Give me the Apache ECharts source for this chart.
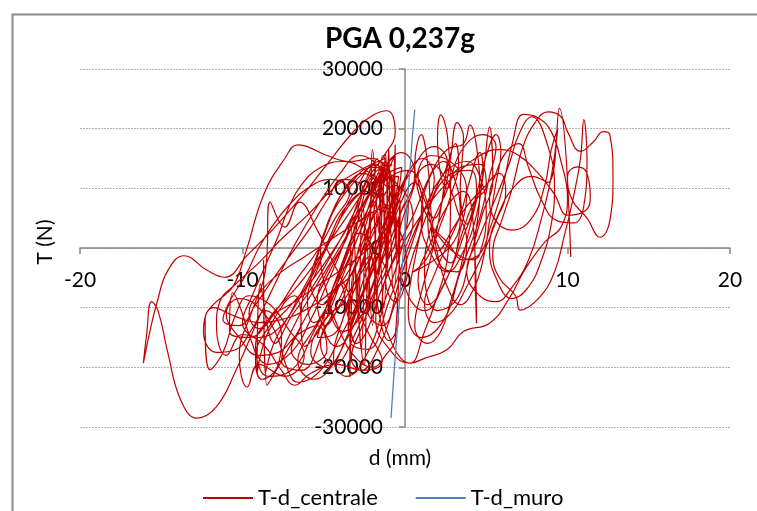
<!DOCTYPE html>
<html lang="it">
<head>
<meta charset="UTF-8">
<title>PGA 0,237g</title>
<script src="https://cdn.jsdelivr.net/npm/echarts@6/dist/echarts.min.js"></script>
<style>
  html, body { margin: 0; padding: 0; background: #fff; }
  #chart { width: 757px; height: 511px; }
</style>
</head>
<body>
<div id="chart"></div>
<script>
// axis ticks
const xTicks = [-20, -10, 0, 10, 20];
const yTicks = [-30000, -20000, -10000, 0, 10000, 20000, 30000];

// T-d_centrale in time order: d (mm), T (N)
const centraleInit = [
  [0,0],[0.5,4500],[0.2,8000],[-0.7,1500],[-1.2,-5500],[-0.6,-9000],[0.4,-2000],[1.1,6500],[0.6,11000],
  [-0.5,6000],[-1.5,-2500],[-2.3,-10500],[-1.4,-13000],[-0.3,-5000],[0.9,4500],[1.8,11500],[1.1,15000],
  [-0.4,9500],[-1.8,500],[-2.9,-8500],[-3.4,-15500],[-2.3,-17000],[-1.0,-9000],[0.4,1500],[1.7,9500],
  [2.6,14500],[1.8,17000],[0.3,12500],[-1.3,3500],[-1.6,-2000],[-1.4,14000],[-1.2,-1000],[-1.0,16800],
  [-0.9,3000],[-0.6,17300],[-0.7,6000],[-2.0,-1000]
];
const centraleCore = [
  [-3.8,-9000],[-5.2,-16000],[-4.4,-19500],[-3.0,-14000],[-1.8,-5000],[-0.4,5000],[0.6,12500],[-0.2,16000],
  [-1.8,11000],[-3.6,2000],[-5.6,-7000],[-7.0,-14000],[-7.6,-19000],[-6.4,-20500],[-5.0,-14000],[-3.6,-6000],
  [-2.0,3000],[-0.8,11000],[-1.6,14500],[-3.2,9000],[-5.0,-1000],[-6.6,-9000],[-8.0,-15500],[-8.6,-21000],
  [-8.7,-2000],[-8.5,-23000],[-7.4,-18000],[-5.6,-9000],[-4.0,-500],[-2.6,7000],[-1.4,13000],[-0.6,15500],
  [-1.8,9000],[-3.0,2500],[-4.2,-6000],[-5.0,-12500],[-4.2,-16500],[-2.8,-11000],[-1.6,-3000],[-0.6,6500],
  [-0.2,13500],[-1.2,12000],[-2.4,4000],[-3.2,-6000],[-3.4,-21600],[-3.3,-9000],[-4.6,-11000],[-5.8,-17500],
  [-4.8,-20000],[-3.6,-15000],[-2.6,-7500],[-1.6,1000],[-0.8,9000],[-1.4,15500],[-1.6,2500],[-2.0,16500],
  [-2.2,4000],[-2.8,-4500],[-3.9,-12500],[-4.4,-18500],[-3.6,-21500],[-2.2,-17000],[-1.2,-8500],[-0.2,0],
  [0.2,7500],[-0.6,10500],[-1.8,6000],[-3.0,-1500],[-4.4,-8000],[-5.6,-13500],[-6.6,-19000],[-5.6,-22000],
  [-4.2,-18500],[-3.0,-10500],[-1.8,-2500],[-0.8,5500],[-0.4,12000],[-1.6,11000],[-2.8,5000],[-3.8,-2000],
  [-4.8,-9500],[-5.4,-15000],[-4.4,-14500],[-3.4,-8000],[-2.4,-500],[-1.4,8000],[-2.6,12500],[-3.8,9500],
  [-4.8,3500],[-5.6,-3500],[-6.4,-11000],[-6.2,-16500],[-5.0,-12500],[-3.8,-4500],[-2.6,4000],[-1.6,11500]
];
const centraleCore2 = [
  [-0.8,14000],[-1.9,12500],[-2.6,8000],[-3.1,1500],[-3.5,-5500],[-4.1,-10000],[-4.9,-13000],[-5.4,-9000],
  [-4.8,-4000],[-3.7,1000],[-2.9,6500],[-2.4,11500],[-1.7,15000],[-1.5,4000],[-1.2,16000],[-1.1,-2000],
  [-1.9,-8000],[-2.7,-13500],[-3.3,-18500],[-2.7,-20500],[-1.6,-16500],[-0.7,-10000],[0.1,-3000],[-0.4,3500],
  [-1.3,7500],[-2.3,9500],[-3.6,7000],[-4.6,2000],[-5.3,-3000],[-6.0,-8500],[-5.6,-12500],[-4.8,-10500],
  [-4.0,-6000],[-3.5,-11500],[-3.0,-16000],[-2.2,-13000],[-1.7,-6500],[-2.2,-1500],[-2.9,-7000],[-2.5,-19500],
  [-2.3,-6000],[-1.4,500],[-0.6,7000],[-0.9,12500],[-2.0,13500],[-3.3,11000],[-4.4,6500],[-5.2,500],
  [-5.8,-6000],[-5.1,-9500],[-4.2,-5000],[-3.5,0],[-2.8,4500],[-2.0,-2000],[-1.6,-11000],[-1.0,-15500],
  [-0.4,-12000],[-0.9,-5500],[-1.8,-500],[-2.8,2500],[-3.9,-3500],[-4.6,-9500],[-3.8,-14000],[-2.6,-11000],
  [-1.4,-4000],[-0.5,3000],[-0.9,9000],[-1.6,-4500],[-1.3,13000],[-2.2,9000],[-1.2,14500]
];
const centraleCore3 = [
  [-0.5,-2000],[-0.9,9000],[-1.1,-4000],[-1.4,12000],[-1.7,-6000],[-2.0,10500],[-2.3,-9000],[-2.6,8000],
  [-2.9,-12000],[-3.2,5000],[-3.5,-14000],[-3.1,-3000],[-2.7,-17000],[-2.4,2000],[-2.0,-13000],[-1.7,6500],
  [-1.3,-10000],[-1.0,11000],[-0.7,-7000],[-0.3,8000],[-0.6,-15000],[-1.2,-18000],[-2.0,-20000],[-3.0,-18500],
  [-4.0,-14000],[-4.8,-7500],[-5.2,-1000],[-4.6,5000],[-3.6,9500],[-2.6,12500],[-1.8,14000],
  [-1.0,10000],[-2.4,13000],[-3.8,14500],[-5.2,13500],[-6.4,10500],[-7.2,6500],[-7.8,2000],[-8.6,-3000],
  [-9.4,-8000],[-10.0,-12500],[-9.0,-15000],[-7.6,-13000],[-6.6,-8500],[-5.6,-3500],[-4.6,1500],[-3.6,6500],
  [-2.4,10000],[-1.2,12000],[-0.4,9500],[-1.0,4000],[-2.2,0],[-3.6,-3000],[-5.2,-6000],[-6.8,-9000],
  [-8.4,-12000],[-9.2,-16500],[-8.4,-19500],[-7.0,-17500],[-5.8,-12000],[-4.8,-6000],[-3.8,500],[-3.0,7000],
  [-2.2,12000],[-1.4,15000],[-0.6,19500]
];
const centraleLeft = [
  [-1.1,23000],[-2.0,22200],[-3.2,19400],[-4.8,14000],[-6.4,8500],[-8.0,3500],[-9.7,-1200],[-11.1,-4900],
  [-12.2,-3700],[-13.6,-1300],[-14.6,-3800],[-15.2,-8500],[-15.7,-14000],[-16.1,-19300],[-15.9,-14500],
  [-15.6,-9000],[-15.2,-10500],[-14.6,-17500],[-13.8,-25500],[-12.8,-28500],[-11.6,-26600],[-10.4,-20500],
  [-9.2,-13000],[-8.0,-6000],[-6.8,500],[-5.4,7000],[-4.0,12500],[-2.8,15500],[-1.8,13500],
  [-2.8,8500],[-4.4,2000],[-6.2,-5000],[-8.0,-10500],[-9.6,-15000],[-10.8,-14000],[-10.6,-7500],
  [-10.2,-9500],[-9.4,-16000],[-8.4,-21500],[-7.0,-20500],[-5.6,-14000],[-4.0,-5000],[-2.4,5000],[-1.2,12500],
  [-2.0,15000],[-3.4,14500],[-4.8,15500],[-6.0,17000],[-6.6,17300],[-7.4,15000],[-8.7,8900],[-9.8,-700],
  [-10.6,-6500],[-11.8,-9500],[-12.3,-12000],[-12.0,-20400],[-11.2,-17500],[-10.4,-11000],[-9.6,-8000],
  [-8.3,-9500],[-7.2,-13500],[-6.2,-18000],[-7.4,-21500],[-9.0,-19500],[-9.7,-23300],[-10.2,-18000],
  [-9.4,-10500],[-8.6,-4000],[-8.3,7700],[-7.4,3500],[-6.5,7700],[-5.4,3000],[-4.4,-2500],[-3.2,-9000],
  [-2.2,-14500],[-1.4,-19000],[-2.6,-20500],[-4.2,-19500],[-5.8,-21000],[-6.8,-23000],[-7.6,-20500],
  [-8.8,-16000],[-10.0,-14500],[-11.0,-18000],[-11.6,-13000],[-11.4,-9000],[-10.4,-6000],[-9.0,-2500],
  [-7.6,1500],[-6.0,5500],[-4.4,10000],[-2.8,13000],[-1.2,15000]
];
const centraleLeft2 = [
  [-3.0,-3000],[-4.6,-7500],[-6.2,-10500],[-7.6,-12000],[-9.0,-12500],[-10.4,-11500],[-11.8,-10000],
  [-12.4,-14000],[-11.6,-17500],[-10.4,-17000],[-9.4,-13500],[-8.6,-10500],[-7.6,-14500],[-7.8,-19500],
  [-8.8,-22000],[-9.2,-18500],[-8.2,-12500],[-6.8,-8000],[-6.4,-12500],[-7.0,-17000],[-6.0,-19500],
  [-4.8,-17000],[-5.4,-13000],[-6.6,-14500],[-7.8,-17500],[-9.0,-18000],[-10.2,-15000],[-11.0,-11000],
  [-10.2,-8500],[-9.2,-9500],[-8.0,-14000],[-7.2,-20500],[-6.6,-22500],[-5.2,-20500],[-4.0,-15000],
  [-2.8,-8500],[-1.6,-1000],[-0.6,6000],[0.2,13000]
];
const centraleMid = [
  [-0.6,8000],[-2.0,6000],[-3.4,3500],[-4.8,1000],[-6.2,-1500],[-7.6,-4000],[-8.8,-7000],[-9.6,-11000],
  [-9.0,-13500],[-7.8,-10000],[-6.6,-5000],[-5.4,-500],[-4.4,4500],[-3.4,9500],[-4.6,11500],[-6.0,10000],
  [-7.2,7000],[-8.2,3500],[-9.0,0],[-9.8,-4500],[-10.8,-9000],[-11.2,-12000],[-10.2,-13000],[-9.2,-9500],
  [-8.2,-5500],[-7.0,-1000],[-5.8,3500],[-4.8,8000],[-3.8,11500],[-2.6,10000],[-3.4,4500],[-4.6,-1500],
  [-5.8,-7000],[-7.0,-11500],[-8.0,-16000],[-8.9,-6000],[-9.1,-21000],[-8.4,-14000],[-7.0,-9500],
  [-5.6,-5000],[-4.2,500],[-2.8,6500],[-1.6,10500],[0.2,13000]
];
const centraleRightCore = [
  [1.2,9000],[1.8,2000],[2.8,-2500],[3.4,3000],[3.8,9000],[3.2,13500],[1.6,15500],[0.4,9000],
  [-0.4,0],[0.2,-8000],[1.2,-10500],[2.4,-6000],[3.6,2000],[4.4,9500],[4.0,13000],[2.6,12000],[1.4,6000],
  [0.6,-2000],[0.2,-11000],[1.0,-15000],[2.4,-12000],[3.4,-4000],[4.6,5000],[5.2,12000],[5.6,17000],
  [4.8,19000],[3.4,16000],[2.6,10000],[2.0,18500],[2.2,22300],[2.6,19000],[2.8,8000],[2.6,-2000],
  [2.0,-8000],[1.2,-14000],[0.3,-19300],[-0.8,-16000],[-1.4,-9000],[-0.6,-1000],[0.6,6000],[1.6,12500],
  [2.6,16500],[3.6,17500],[4.0,20600],[4.4,17000],[4.6,9000],[4.3,0],[4.4,-12600],[4.2,4000],[3.6,9500],
  [2.6,7000],[1.6,1000],[0.8,-5500],[1.4,-9500],[2.6,-5000],[3.4,1500],[4.2,7500],[5.0,10500],[4.6,14000],
  [3.4,13500],[2.4,8500],[1.6,3500],[1.2,-3500],[2.0,-10500],[3.2,-8500],[4.0,-1500],[4.8,6000],[5.4,11000],
  [5.2,20300],[4.8,12000],[4.4,5500],[3.6,-500],[2.6,-4000],[1.6,-1000],[1.0,4500],[1.4,11000],[2.4,14500],
  [3.0,12000],[3.4,6000],[3.0,1000]
];
const centraleRight2 = [
  [0.5,-4000],[1.4,-1500],[2.2,4000],[2.9,9500],[3.3,14000],[3.1,17500],[2.6,13500],[2.2,6500],[1.6,-1500],
  [1.0,-7500],[0.6,-13000],[1.4,-16000],[2.2,-14000],[2.8,-9000],[3.4,-3500],[3.9,2500],[4.4,8000],
  [4.8,13000],[4.6,16000],[4.0,11500],[3.4,5500],[2.6,500],[1.8,-4500],[1.2,-9500],[1.8,-12500],
  [2.8,-11000],[3.8,-6500],[4.8,-1000],[5.6,4500],[6.2,9500],[5.8,12500],[4.8,10000],[3.8,7000],[3.0,3500],
  [2.0,-500],[1.4,4500],[2.0,10500],[2.8,13500],[3.8,14500],[4.6,12000],[5.0,5500],[4.6,-1000],[4.2,-2000]
];
const centraleRight3 = [
  [0.6,14000],[1.0,19000],[1.4,14000],[1.6,6000],[2.0,-1000],[2.6,-6500],[3.4,-9500],[4.2,-7000],[4.8,-2000],
  [5.2,4500],[5.6,11000],[5.9,16000],[5.6,19000],[5.0,15500],[4.4,9000],[3.8,4000],[3.4,10000],[3.6,18500],
  [3.2,21000],[2.8,15000],[2.4,9000],[1.8,5000],[1.2,8000],[0.8,12000],[1.6,14000],[2.6,11000],[3.2,6500],
  [3.8,1000],[3.2,-4000],[2.2,-3000],[1.6,3500],[2.6,1000],[3.6,-2000],[4.6,-1000]
];
const centraleRight = [
  [5.2,3000],[6.0,10000],[6.6,17500],[7.3,22400],[8.2,21800],[9.0,19500],[9.6,14500],[10.0,8500],[9.6,3500],
  [8.6,1000],[7.4,-3500],[6.4,-8500],[5.2,-12600],[3.6,-14000],[2.6,-17000],[1.2,-18500],[0.3,-19300],
  [-0.8,-17500],[-1.8,-12000],[-1.0,-4000],[0.4,3000],[1.8,8500],[3.2,12500],[4.6,15500],[5.8,16500],
  [7.0,15500],[8.2,12500],[9.2,9000],[10.0,5500],[10.8,5800],[11.4,8000],[11.2,12500],[10.6,13600],
  [10.0,12000],[10.3,8000],[11.2,5000],[12.0,1800],[12.6,4500],[12.8,12000],[12.6,19000],[12.2,19500],
  [11.6,17800],[10.8,16200],[10.0,19500],[9.6,22000],[8.8,22800],[8.0,21000],[7.2,16500],[6.6,10000],
  [6.0,5000],[5.4,-1000],[5.8,-5000],[6.8,-8000],[7.1,-10400],[8.3,-8200],[9.2,-4000],[9.8,2000],
  [10.4,9000],[10.8,15000],[11.0,21500],[11.2,15000],[11.0,7000],[10.4,4200],[9.4,4500],[8.4,8000],
  [7.6,13500],[7.0,17500],[6.2,16000],[5.6,12500],[5.2,8500],[5.6,4500],[6.6,3000],[7.8,5000],[8.6,10500],
  [9.0,16500],[9.4,20000],[9.0,12000],[8.4,5000],[7.6,-2000],[6.6,-6500],[5.6,-9000],[4.6,-8000],
  [3.8,-4000],[4.6,2000],[5.6,8500],[6.4,14000],[7.0,19000],[7.8,22000]
];
const centraleEnd = [
  [8.8,17000],[9.2,10000],[9.0,4000],[8.4,-2000],[7.6,-6500],[6.6,-8500],[5.6,-5000],[5.2,0],[5.8,6000],
  [6.8,10500],[7.8,12000],[8.8,11000],[9.5,23400],[10.2,-1500]
];

// T-d_muro
const muro = [
  [-0.86,-28500],[-0.7,-22000],[-0.5,-14500],[-0.3,-7500],[-0.1,-500],[0.1,6500],[0.3,13000],[0.45,18500],[0.6,23200]
];

const centrale = [].concat(centraleInit, centraleCore, centraleCore2, centraleCore3, centraleLeft, centraleLeft2,
  centraleMid, centraleRightCore, centraleRight2, centraleRight3, centraleRight, centraleEnd);

const font = 'Lato, "Open Sans", sans-serif';
let myChart = echarts.init(document.getElementById('chart'));

// grid: x -20..20 -> 80..730 px, y 30000..-30000 -> 69..427 px
const gridLeft = 80, gridTop = 69, gridW = 650, gridH = 358;

let option = {
  animation: false,
  backgroundColor: '#fff',
  title: {
    text: 'PGA 0,237g',
    left: 395,
    top: 20,
    textAlign: 'center',
    textStyle: { fontFamily: font, fontWeight: 'bold', fontSize: 28, color: '#000' }
  },
  grid: { left: gridLeft, top: gridTop, width: gridW, height: gridH, containLabel: false, outerBoundsMode: 'none' },
  legend: {
    data: ['T-d_centrale', 'T-d_muro'],
    left: 198,
    top: 482,
    icon: 'rect',
    itemWidth: 50,
    itemHeight: 2,
    itemGap: 38,
    textStyle: { fontFamily: font, fontSize: 22, color: '#000' }
  },
  xAxis: {
    type: 'value',
    position: 'bottom',
    offset: -gridH / 2,           // axis drawn through T = 0
    min: xTicks[0],
    max: xTicks[xTicks.length - 1],
    interval: 10,
    z: 3,
    axisLine: { onZero: false, lineStyle: { color: '#868686', width: 1.5 } },
    axisTick: { show: true, length: 6, lineStyle: { color: '#868686', width: 1.5 } },
    axisLabel: { margin: 22, fontFamily: font, fontSize: 21, color: '#000', formatter: v => String(v) },
    splitLine: { show: false }
  },
  yAxis: {
    type: 'value',
    position: 'left',
    offset: -gridW / 2,           // axis drawn through d = 0
    min: yTicks[0],
    max: yTicks[yTicks.length - 1],
    interval: 10000,
    z: 3,
    axisLine: { onZero: false, lineStyle: { color: '#868686', width: 1.5 } },
    axisTick: { show: true, length: 6, lineStyle: { color: '#868686', width: 1.5 } },
    axisLabel: { margin: 22, fontFamily: font, fontSize: 21, color: '#000', formatter: v => String(v) },
    splitLine: { show: true, lineStyle: { color: '#b4b4b4', width: 1, type: [2, 1] } }
  },
  graphic: [
    { type: 'rect', left: 10, top: 12, shape: { width: 760, height: 520 }, style: { fill: 'none', stroke: '#8c8c8c', lineWidth: 2 }, silent: true },
    { type: 'text', x: 45, y: 242, rotation: Math.PI / 2, style: { text: 'T (N)', fontFamily: font, fontSize: 21, fill: '#000', align: 'center', verticalAlign: 'middle' } },
    { type: 'text', x: 400, y: 458, style: { text: 'd (mm)', fontFamily: font, fontSize: 21, fill: '#000', align: 'center', verticalAlign: 'middle' } }
  ],
  series: [
    {
      name: 'T-d_centrale',
      type: 'line',
      data: centrale,
      smooth: 0.45,
      symbol: 'none',
      lineStyle: { color: '#C00000', width: 1.2 },
      itemStyle: { color: '#C00000' }
    },
    {
      name: 'T-d_muro',
      type: 'line',
      data: muro,
      smooth: 0.3,
      symbol: 'none',
      lineStyle: { color: '#4F81BD', width: 1.3 },
      itemStyle: { color: '#4F81BD' }
    }
  ]
};

myChart.setOption(option);
</script>
</body>
</html>
